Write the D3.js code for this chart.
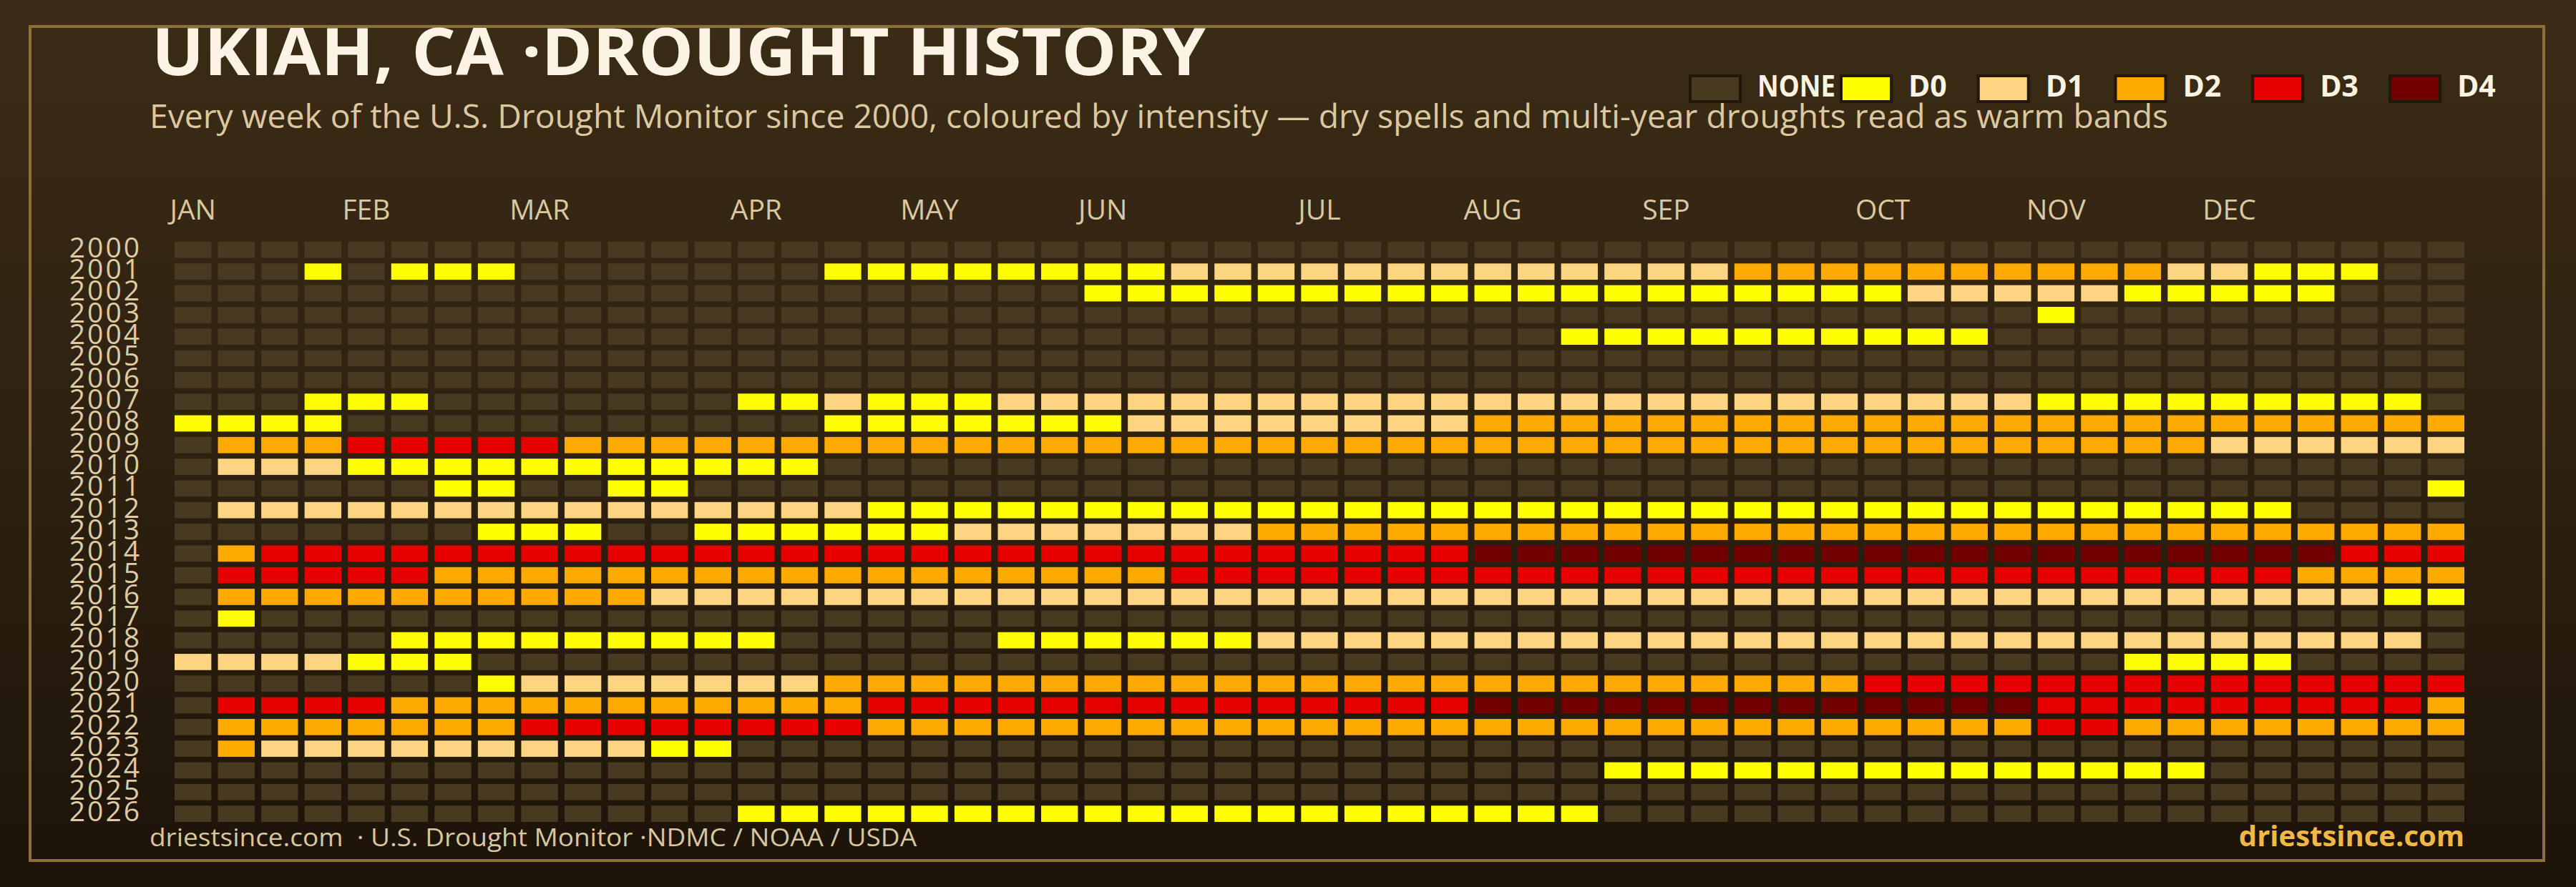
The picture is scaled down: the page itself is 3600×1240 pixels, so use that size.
<!DOCTYPE html>
<html><head><meta charset="utf-8">
<script src="https://cdn.jsdelivr.net/npm/d3@7"></script>
<style>html,body{margin:0;padding:0;background:#1d1409;}svg{display:block;}</style>
</head><body>
<script>
// ---------- DATA ----------
const years = d3.range(2000, 2027);
const levels = ["NONE", "D0", "D1", "D2", "D3", "D4"];
const levelColors = ["#483a20", "#ffff00", "#fdd481", "#ffaa00", "#e60000", "#730000"];
const monthLabels = ["JAN","FEB","MAR","APR","MAY","JUN","JUL","AUG","SEP","OCT","NOV","DEC"];
const monthWeeks = [0, 4, 8, 13, 17, 21, 26, 30, 34, 39, 43, 47];
// one string per year, 53 weeks; "." = no drought, digit = D-level; "|" separates groups of 10 weeks
const weekly = [
  "..........|..........|..........|..........|..........|...", // 2000
  "...0.000..|.....00000|0001111111|1111112222|2222221100|0..", // 2001
  "..........|..........|.000000000|0000000000|1111100000|...", // 2002
  "..........|..........|..........|..........|...0......|...", // 2003
  "..........|..........|..........|..00000000|00........|...", // 2004
  "..........|..........|..........|..........|..........|...", // 2005
  "..........|..........|..........|..........|..........|...", // 2006
  "...000....|...0010001|1111111111|1111111111|1110000000|00.", // 2007
  "0000......|.....00000|0011111111|2222222222|2222222222|222", // 2008
  ".222333332|2222222222|2222222222|2222222222|2222222111|111", // 2009
  ".111000000|00000.....|..........|..........|..........|...", // 2010
  "......00..|00........|..........|..........|..........|..0", // 2011
  ".111111111|1111110000|0000000000|0000000000|000000000.|...", // 2012
  ".......000|..00000011|1111122222|2222222222|2222222222|222", // 2013
  ".233333333|3333333333|3333333333|4444444444|4444444444|333", // 2014
  ".333332222|2222222222|2223333333|3333333333|3333333332|222", // 2015
  ".222222222|2111111111|1111111111|1111111111|1111111111|100", // 2016
  ".0........|..........|..........|..........|..........|...", // 2017
  ".....00000|0000.....0|0000011111|1111111111|1111111111|11.", // 2018
  "1111000...|..........|..........|..........|.....0000.|...", // 2019
  ".......011|1111122222|2222222222|2222222223|3333333333|333", // 2020
  ".333322222|2222223333|3333333333|4444444444|4443333333|332", // 2021
  ".222222233|3333332222|2222222222|2222222222|2223322222|222", // 2022
  ".211111111|100.......|..........|..........|..........|...", // 2023
  "..........|..........|..........|...0000000|0000000...|...", // 2024
  "..........|..........|..........|..........|..........|...", // 2025
  "..........|...0000000|0000000000|000.......|..........|..."  // 2026
];
const titleText = "UKIAH, CA ·DROUGHT HISTORY";
const subtitleText = "Every week of the U.S. Drought Monitor since 2000, coloured by intensity — dry spells and multi-year droughts read as warm bands";
const footerLeft = "driestsince.com  · U.S. Drought Monitor ·NDMC / NOAA / USDA";
const footerRight = "driestsince.com";

// ---------- BUILD ----------
const W = 3600, H = 1240;
const cells = [];
weekly.forEach((s, i) => {
  s.replace(/\|/g, "").split("").forEach((ch, w) => {
    cells.push({ year: years[i], week: w, level: ch === "." ? 0 : (+ch + 1) });
  });
});

const svg = d3.select("body").append("svg").attr("width", W).attr("height", H);
const defs = svg.append("defs");
const grad = defs.append("linearGradient").attr("id", "bg").attr("x1", 0).attr("y1", 0).attr("x2", 0).attr("y2", 1);
grad.append("stop").attr("offset", "0%").attr("stop-color", "#3b2c15");
grad.append("stop").attr("offset", "55%").attr("stop-color", "#2c2010");
grad.append("stop").attr("offset", "100%").attr("stop-color", "#1c1309");
svg.append("rect").attr("width", W).attr("height", H).attr("fill", "url(#bg)");

// frame
svg.append("rect").attr("x", 42).attr("y", 37).attr("width", 3513).attr("height", 1166)
  .attr("fill", "none").attr("stroke", "#8c6f3c").attr("stroke-width", 4);

const FONT = "'Open Sans', 'Noto Sans', sans-serif";

// scales
const x = d3.scaleBand().domain(d3.range(53)).range([244, 3444]).paddingInner(0.152).paddingOuter(0);
const y = d3.scaleBand().domain(years).range([338, 1149]).paddingInner(0.25).paddingOuter(0);
const color = d3.scaleOrdinal().domain(d3.range(levels.length)).range(levelColors);

// title
svg.append("text").attr("x", 212).attr("y", 105)
  .attr("font-family", FONT).attr("font-weight", 700).attr("font-size", 92)
  .attr("fill", "#fbf3e3").attr("textLength", 1473).attr("lengthAdjust", "spacingAndGlyphs")
  .text(titleText);
svg.append("text").attr("x", 209).attr("y", 179)
  .attr("font-family", FONT).attr("font-weight", 500).attr("font-size", 45)
  .attr("fill", "#dcc8a0").attr("textLength", 2821).attr("lengthAdjust", "spacingAndGlyphs")
  .text(subtitleText);

// legend
const legendX = d3.scaleLinear().domain([1, 5]).range([2571, 3338]);
const lg = svg.append("g");
levels.forEach((lab, i) => {
  const lx = i === 0 ? legendX(1) - 211 : legendX(i);
  lg.append("rect").attr("x", lx + 2).attr("y", 106).attr("width", 70).attr("height", 36)
    .attr("fill", color(i)).attr("stroke", "#22180a").attr("stroke-width", 4);
  lg.append("text").attr("x", lx + 96).attr("y", 135)
    .attr("font-family", FONT).attr("font-weight", 700).attr("font-size", 41)
    .attr("fill", "#fbf3e3")
    .attr("textLength", i === 0 ? 109 : null).attr("lengthAdjust", "spacingAndGlyphs")
    .text(lab);
});

// month labels
svg.append("g").selectAll("text").data(monthLabels).join("text")
  .attr("x", (d, i) => x(monthWeeks[i]) + x.bandwidth() / 2)
  .attr("y", 307)
  .attr("text-anchor", "middle")
  .attr("font-family", FONT).attr("font-weight", 500).attr("font-size", 39)
  .attr("fill", "#dcc8a0")
  .text(d => d);

// year labels
svg.append("g").selectAll("text").data(years).join("text")
  .attr("x", 198)
  .attr("y", d => y(d) + y.bandwidth() - 1)
  .attr("text-anchor", "end")
  .attr("font-family", FONT).attr("font-size", 39)
  .attr("letter-spacing", 3)
  .attr("fill", "#dfcba3")
  .text(d => d);

// cells
svg.append("g").selectAll("rect").data(cells).join("rect")
  .attr("x", d => x(d.week))
  .attr("y", d => y(d.year))
  .attr("width", x.bandwidth())
  .attr("height", y.bandwidth())
  .attr("fill", d => color(d.level));

// footer
svg.append("text").attr("x", 209).attr("y", 1183)
  .attr("font-family", FONT).attr("font-size", 34)
  .attr("fill", "#d8c6a0").style("white-space", "pre")
  .attr("textLength", 1072).attr("lengthAdjust", "spacingAndGlyphs")
  .text(footerLeft);
svg.append("text").attr("x", 3444).attr("y", 1183)
  .attr("text-anchor", "end")
  .attr("font-family", FONT).attr("font-weight", 700).attr("font-size", 40)
  .attr("fill", "#f2b846")
  .text(footerRight);
</script>
</body></html>
